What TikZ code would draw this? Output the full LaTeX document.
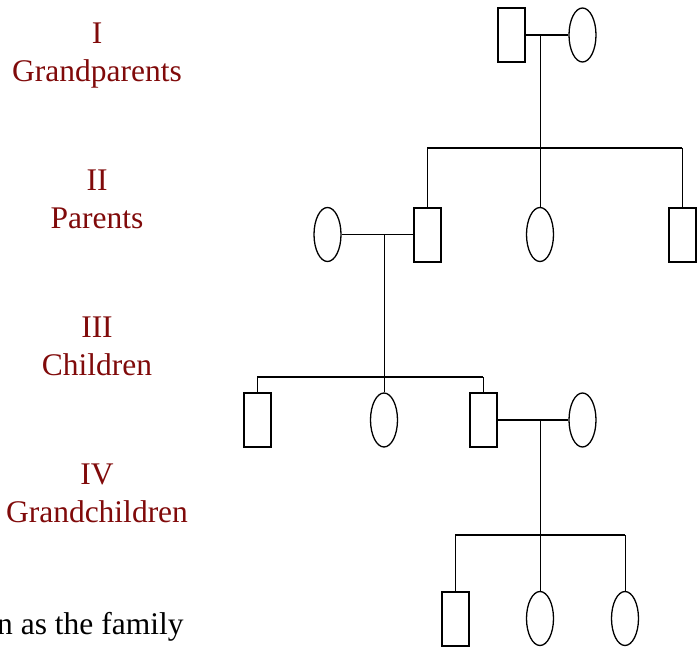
\documentclass[tikz,border=0pt]{standalone}
\usepackage{fontspec}
\setmainfont{Liberation Serif}
\usetikzlibrary{shapes.geometric}
\definecolor{lab}{RGB}{128,10,10}
\begin{document}
\begin{tikzpicture}[x=1pt,y=-1pt,
  male/.style={draw,rectangle,minimum width=27pt,minimum height=54pt,inner sep=0pt,line width=2pt},
  female/.style={draw,ellipse,minimum width=27pt,minimum height=54pt,inner sep=0pt,line width=1.3pt},
  link/.style={line width=1.8pt},
  drop/.style={line width=1pt},
  gen/.style={text=lab,font=\fontsize{31.5}{38}\selectfont,anchor=base,inner sep=0pt}]
\useasboundingbox (0,0) rectangle (698,647);
% generation labels
\node[gen] (g1a) at (97,43.5) {I};
\node[gen] (g1b) at (97,81.7) {Grandparents};
\node[gen] (g2a) at (97,190.5) {II};
\node[gen] (g2b) at (97,228.5) {Parents};
\node[gen] (g3a) at (97,337) {III};
\node[gen] (g3b) at (97,375) {Children};
\node[gen] (g4a) at (97,484) {IV};
\node[gen] (g4b) at (97,522) {Grandchildren};
\node[anchor=base west,inner sep=0pt,font=\fontsize{31.5}{38}\selectfont] (txt) at (-3,634) {n as the family};
% generation I
\node[male] (gf) at (511.5,35) {};
\node[female] (gm) at (582.5,35) {};
\coordinate (m1) at (540,35);
\coordinate (s1) at (540,148);
\coordinate (s1l) at (427,148);
\coordinate (s1r) at (682,148);
% generation II
\node[male] (p1) at (427,234.5) {};
\node[female] (p2) at (540,234.5) {};
\node[male] (p3) at (682,234.5) {};
\node[female] (pw) at (327.5,234.5) {};
\coordinate (m2) at (384,234.5);
\coordinate (s2) at (384,377);
\coordinate (s2l) at (257,377);
\coordinate (s2r) at (483,377);
% generation III
\node[male] (c1) at (257,420) {};
\node[female] (c2) at (384,420) {};
\node[male] (c3) at (483,420) {};
\node[female] (cw) at (582.5,420) {};
\coordinate (m3) at (540,420);
\coordinate (s3) at (540,535);
\coordinate (s3l) at (455,535);
\coordinate (s3r) at (625,535);
% generation IV
\node[male] (k1) at (455,618.5) {};
\node[female] (k2) at (540,618.5) {};
\node[female] (k3) at (625,618.5) {};
% connectors
\draw[link] (gf.east) -- (gm.west);
\draw[drop] (m1) -- (s1);
\draw[link] (s1l) -- (s1r);
\draw[drop] (s1l) -- (p1.north);
\draw[drop] (s1) -- (p2.north);
\draw[drop] (s1r) -- (p3.north);
\draw[link] (pw.east) -- (p1.west);
\draw[drop] (m2) -- (s2);
\draw[link] (s2l) -- (s2r);
\draw[drop] (s2l) -- (c1.north);
\draw[drop] (s2) -- (c2.north);
\draw[drop] (s2r) -- (c3.north);
\draw[link] (c3.east) -- (cw.west);
\draw[drop] (m3) -- (s3);
\draw[link] (s3l) -- (s3r);
\draw[drop] (s3l) -- (k1.north);
\draw[drop] (s3) -- (k2.north);
\draw[drop] (s3r) -- (k3.north);
\end{tikzpicture}
\end{document}
